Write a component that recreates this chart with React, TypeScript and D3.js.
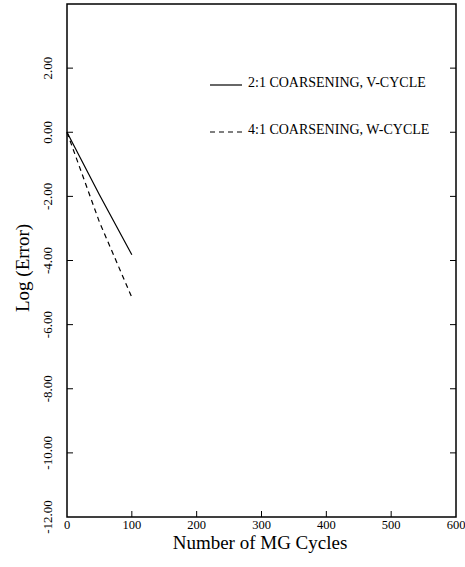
import React, { useEffect, useRef } from "react";
import * as d3 from "d3";

const xTicks = [0, 100, 200, 300, 400, 500, 600];
const yTicks = [-12, -10, -8, -6, -4, -2, 0, 2];
const seriesNames = ["2:1 COARSENING, V-CYCLE", "4:1 COARSENING, W-CYCLE"];
const solidCycles = [0, 50, 100];
const solidLogError = [0, -1.95, -3.82];
const dashedCycles = [0, 50, 100];
const dashedLogError = [0, -2.8, -5.15];

const W = 465, H = 567;
const M = { left: 67, right: 456, top: 4, bottom: 517 };

export default function App() {
  const ref = useRef<SVGSVGElement>(null);
  useEffect(() => {
    const svg = d3.select(ref.current);
    svg.selectAll("*").remove();
    const x = d3.scaleLinear().domain([0, 600]).range([M.left, M.right]);
    const y = d3.scaleLinear().domain([-12, 4]).range([M.bottom, M.top]);
    const font = "'Liberation Serif', 'Times New Roman', serif";

    svg.append("rect").attr("x", M.left).attr("y", M.top)
      .attr("width", M.right - M.left).attr("height", M.bottom - M.top)
      .attr("fill", "none").attr("stroke", "#000").attr("stroke-width", 1.5);

    xTicks.forEach(t => {
      if (t !== 0 && t !== 600) {
        svg.append("line").attr("x1", x(t)).attr("x2", x(t)).attr("y1", M.bottom).attr("y2", M.bottom - 6)
          .attr("stroke", "#000").attr("stroke-width", 1);
      }
      svg.append("text").attr("x", x(t)).attr("y", 529).attr("text-anchor", "middle")
        .attr("font-family", font).attr("font-size", 12.5).text(String(t));
    });

    yTicks.forEach(t => {
      if (t !== -12) {
        svg.append("line").attr("x1", M.left).attr("x2", M.left + 6).attr("y1", y(t)).attr("y2", y(t))
          .attr("stroke", "#000").attr("stroke-width", 1);
        svg.append("line").attr("x1", M.right).attr("x2", M.right - 6).attr("y1", y(t)).attr("y2", y(t))
          .attr("stroke", "#000").attr("stroke-width", 1);
      }
      svg.append("text").attr("transform", `translate(52,${y(t)}) rotate(-90)`)
        .attr("text-anchor", "middle").attr("font-family", font).attr("font-size", 13)
        .text(t.toFixed(2));
    });

    svg.append("text").attr("transform", `translate(29,${268}) rotate(-90)`)
      .attr("text-anchor", "middle").attr("font-family", font).attr("font-size", 19).text("Log (Error)");
    svg.append("text").attr("x", 260).attr("y", 549).attr("text-anchor", "middle")
      .attr("font-family", font).attr("font-size", 19).text("Number of MG Cycles");

    const line = d3.line<[number, number]>().x(d => x(d[0])).y(d => y(d[1]));
    const solid: [number, number][] = solidCycles.map((c, i) => [c, solidLogError[i]]);
    const dashed: [number, number][] = dashedCycles.map((c, i) => [c, dashedLogError[i]]);
    svg.append("path").attr("d", line(solid)).attr("fill", "none").attr("stroke", "#000").attr("stroke-width", 1.2);
    svg.append("path").attr("d", line(dashed)).attr("fill", "none").attr("stroke", "#000").attr("stroke-width", 1.2)
      .attr("stroke-dasharray", "5,4");

    const legY = [85, 132];
    seriesNames.forEach((n, i) => {
      svg.append("line").attr("x1", 210).attr("x2", 242).attr("y1", legY[i]).attr("y2", legY[i])
        .attr("stroke", "#000").attr("stroke-width", 1.2)
        .attr("stroke-dasharray", i === 1 ? "5,4" : null);
      svg.append("text").attr("x", 248).attr("y", legY[i] + 2).attr("font-family", font)
        .attr("font-size", 14).text(n);
    });
  }, []);
  return <svg ref={ref} width={W} height={H} style={{ position: "absolute", left: 0, top: 0 }} />;
}
